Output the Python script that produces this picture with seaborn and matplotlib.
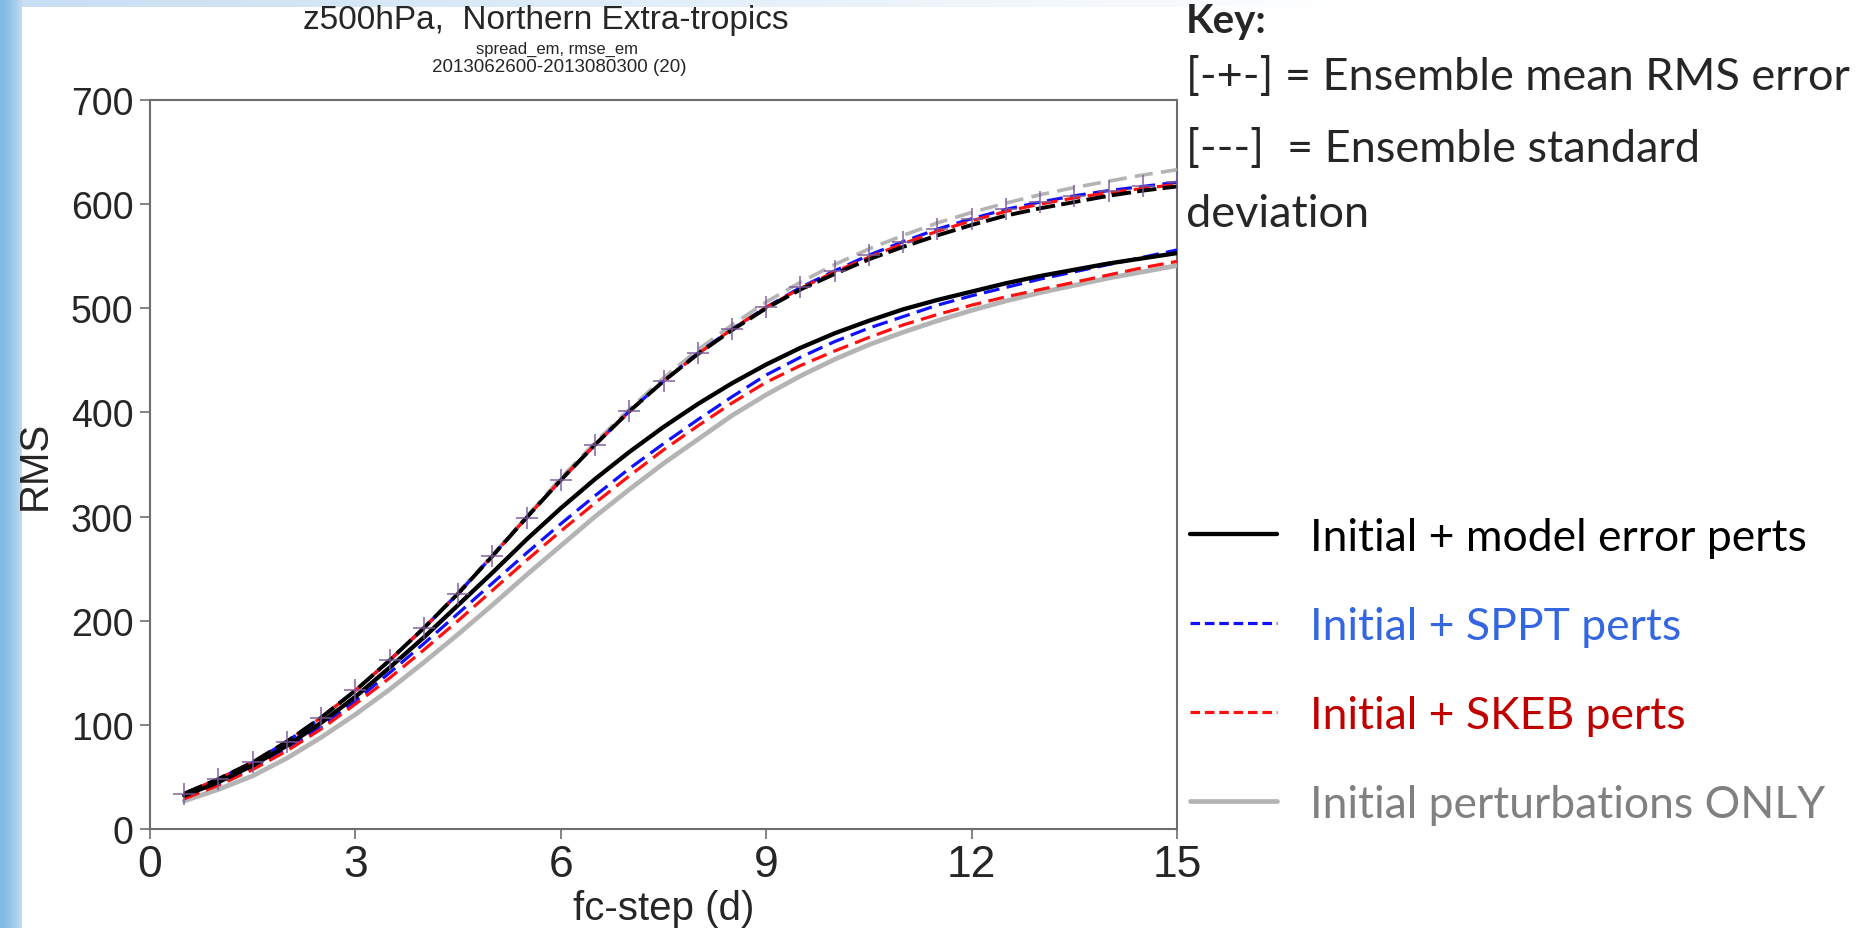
import numpy as np
import pandas as pd
import matplotlib
matplotlib.use("Agg")
import matplotlib.pyplot as plt
import seaborn as sns
from matplotlib.lines import Line2D

# ---------------- data ----------------
days = [0.5, 1.0, 1.5, 2.0, 2.5, 3.0, 3.5, 4.0, 4.5, 5.0, 5.5, 6.0, 6.5, 7.0, 7.5,
        8.0, 8.5, 9.0, 9.5, 10.0, 10.5, 11.0, 11.5, 12.0, 12.5, 13.0, 13.5, 14.0, 14.5, 15.0]

# ensemble standard deviation (spread)
spread_model = [32, 45, 61, 80, 102, 127, 155, 184, 215, 246, 278, 308, 336, 362, 386,
                408, 428, 446, 462, 476, 488, 499, 508, 516, 524, 531, 537, 543, 548, 553]
spread_sppt = [30, 43, 58, 77, 98, 123, 150, 178, 207, 236, 265, 293, 320, 346, 370,
               393, 415, 436, 453, 468, 481, 492, 503, 512, 520, 528, 535, 542, 549, 556]
spread_skeb = [29, 42, 57, 75, 96, 120, 145, 172, 200, 229, 258, 286, 313, 339, 364,
               387, 409, 429, 445, 459, 472, 484, 494, 503, 511, 518, 525, 532, 539, 545]
spread_init = [27, 38, 51, 68, 88, 110, 134, 160, 187, 215, 244, 272, 300, 326, 351,
               374, 397, 417, 435, 451, 465, 477, 488, 498, 507, 515, 522, 529, 535, 541]

# ensemble mean RMS error
rmse_model = [34, 48, 64, 84, 107, 133, 162, 193, 226, 262, 299, 335, 369, 401, 430,
              456, 479, 500, 518, 533, 547, 559, 570, 580, 589, 596, 602, 608, 613, 617]
rmse_sppt = [34, 48, 64, 84, 107, 133, 162, 193, 226, 262, 299, 335, 369, 401, 430,
             457, 480, 501, 520, 536, 551, 564, 576, 586, 595, 602, 608, 613, 617, 621]
rmse_skeb = [34, 48, 64, 84, 107, 133, 162, 193, 226, 262, 299, 335, 369, 401, 430,
             456, 480, 501, 519, 535, 549, 562, 574, 584, 593, 600, 606, 611, 615, 619]
rmse_init = [34, 48, 64, 84, 107, 133, 162, 193, 227, 263, 300, 337, 371, 403, 433,
             460, 484, 506, 525, 542, 557, 570, 582, 592, 601, 609, 616, 622, 628, 633]

x_ticks = [0, 3, 6, 9, 12, 15]
y_ticks = [0, 100, 200, 300, 400, 500, 600, 700]

series_labels = ["Initial + model error perts", "Initial + SPPT perts",
                 "Initial + SKEB perts", "Initial perturbations ONLY"]
label_colors = ["#000000", "#3366e0", "#c00000", "#808080"]

# ---------------- style ----------------
sns.set_theme(style="ticks")
plt.rcParams["font.family"] = ["Liberation Sans", "DejaVu Sans"]
kfam = ["Lato", "DejaVu Sans"]

W, H = 1860, 929
fig = plt.figure(figsize=(W / 100, H / 100), dpi=100)
fig.patch.set_facecolor("white")

# background decoration (blue slide edge)
bg = fig.add_axes([0, 0, 1, 1], zorder=-10)
img = np.ones((H, W, 3))
edge = np.array([0.50, 0.73, 0.89])
pale = np.array([0.78, 0.87, 0.95])
band = 22
for i in range(band):
    t = (i / band) ** 1.5
    img[:, i, :] = edge * (1 - t) + pale * t
top = 8
fade = np.clip(1 - np.arange(W) / 1350, 0, 1)
for j in range(top):
    for k in range(3):
        col = pale[k] * fade + 1.0 * (1 - fade)
        img[j, band:, k] = col[band:]
bg.imshow(img, aspect="auto", extent=[0, 1, 0, 1])
bg.axis("off")

ax = fig.add_axes([150 / W, 1 - 830 / H, (1177 - 150) / W, (830 - 101) / H])
ax.set_facecolor("white")

lw_dash = 2.3

# spread curves
sns.lineplot(x=days, y=spread_init, ax=ax, color="#b4b4b4", linewidth=3.4, zorder=3)
sns.lineplot(x=days, y=spread_model, ax=ax, color="black", linewidth=3.1, zorder=5)
sns.lineplot(x=days, y=spread_sppt, ax=ax, color="#1010ff", linewidth=lw_dash,
             linestyle=(0, (5, 2.3)), zorder=4)
sns.lineplot(x=days, y=spread_skeb, ax=ax, color="#ff1010", linewidth=lw_dash,
             linestyle=(0, (5, 2.3)), zorder=4)

# rmse curves
sns.lineplot(x=days, y=rmse_init, ax=ax, color="#b4b4b4", linewidth=2.6,
             linestyle=(0, (5, 2.3)), zorder=3)
sns.lineplot(x=days, y=rmse_sppt, ax=ax, color="#1010ff", linewidth=lw_dash,
             linestyle=(2, (5, 2.3)), zorder=4)
sns.lineplot(x=days, y=rmse_skeb, ax=ax, color="#ff1010", linewidth=lw_dash,
             linestyle=(4, (5, 2.3)), zorder=4)
sns.lineplot(x=days, y=rmse_model, ax=ax, color="black", linewidth=2.8,
             linestyle=(0, (5, 1.6)), zorder=5)
sns.scatterplot(x=days, y=rmse_sppt, ax=ax, color="#7a5a9a", marker="+", s=260,
                linewidth=1.3, alpha=0.8, zorder=6)

ax.set_xlim(0, 15)
ax.set_ylim(0, 700)
ax.set_xticks(x_ticks)
ax.set_yticks(y_ticks)
ax.set_xticklabels([str(v) for v in x_ticks])
ax.set_yticklabels([str(v) for v in y_ticks])
for s in ax.spines.values():
    s.set_color("#6e6e6e")
    s.set_linewidth(1.5)
ax.tick_params(axis="y", labelsize=27, length=7, width=1.2, color="#6e6e6e", pad=5, direction="out")
ax.tick_params(axis="x", labelsize=32, length=7, width=1.2, color="#6e6e6e", pad=4, direction="out")
ax.set_xlabel("fc-step (d)", fontsize=29, labelpad=3)
ax.set_ylabel("RMS", fontsize=29, labelpad=12)

fig.text(546 / W, 1 - 21 / H, "z500hPa,  Northern Extra-tropics", fontsize=24,
         ha="center", va="center")
fig.text(557 / W, 1 - 49 / H, "spread_em, rmse_em", fontsize=12, ha="center", va="center")
fig.text(559 / W, 1 - 67 / H, "2013062600-2013080300 (20)", fontsize=13.5, ha="center",
         va="center")

# key text
fig.text(1186 / W, 1 - 21 / H, "Key:", fontsize=29, fontweight="bold", family=kfam,
         ha="left", va="center")
fig.text(1186 / W, 1 - 77 / H, "[-+-] = Ensemble mean RMS error", fontsize=32.5, family=kfam,
         ha="left", va="center")
fig.text(1186 / W, 1 - 150 / H, "[---]  = Ensemble standard", fontsize=32.5, family=kfam,
         ha="left", va="center")
fig.text(1186 / W, 1 - 215 / H, "deviation", fontsize=32.5, family=kfam, ha="left", va="center")

handles = [
    Line2D([], [], color="black", linewidth=3.1),
    Line2D([], [], color="#1010ff", linewidth=2.3, linestyle=(0, (3, 1.5))),
    Line2D([], [], color="#ff1010", linewidth=2.3, linestyle=(0, (3, 1.5))),
    Line2D([], [], color="#b4b4b4", linewidth=3.4),
]
leg = fig.legend(handles, series_labels, loc="center left",
                 bbox_to_anchor=(1190 / W, 1 - 672 / H), frameon=False,
                 prop={"family": kfam, "size": 32}, handlelength=1.95,
                 handletextpad=0.75, labelspacing=1.08, borderaxespad=0, borderpad=0)
for t, c in zip(leg.get_texts(), label_colors):
    t.set_color(c)

fig.savefig("out.png", dpi=100, facecolor="white")
